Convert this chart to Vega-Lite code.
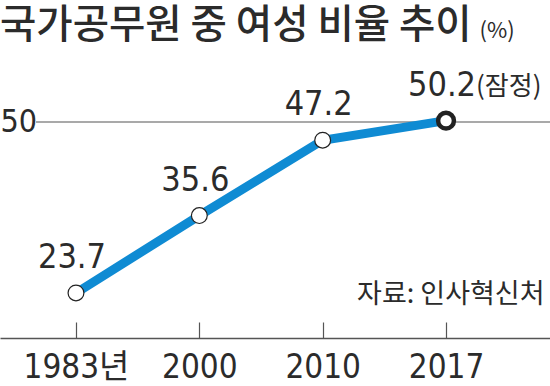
{
  "$schema": "https://vega.github.io/schema/vega-lite/v6.json",
  "width": 550,
  "height": 290,
  "autosize": {"type": "none"},
  "padding": {"left": 0, "right": 0, "top": 48, "bottom": 48},
  "background": "white",
  "title": {
    "text": "국가공무원 중 여성 비율 추이",
    "anchor": "start",
    "frame": "group",
    "orient": "top",
    "offset": 12,
    "dy": 70,
    "baseline": "alphabetic",
    "font": "Noto Sans CJK KR",
    "fontSize": 39.5,
    "fontWeight": 500,
    "color": "#2b2b2b"
  },
  "config": {"view": {"stroke": null}},
  "datasets": {
    "ref": [{"level": 50, "from": -0.324, "to": 3.843}]
  },
  "data": {
    "values": [
      {"idx": 0, "year": "1983년", "value": 23.7, "label": "23.7", "note": ""},
      {"idx": 1, "year": "2000", "value": 35.6, "label": "35.6", "note": ""},
      {"idx": 2, "year": "2010", "value": 47.2, "label": "47.2", "note": ""},
      {"idx": 3, "year": "2017", "value": 50.2, "label": "50.2", "note": "(잠정)"}
    ]
  },
  "encoding": {
    "x": {
      "field": "idx",
      "type": "quantitative",
      "scale": {"domain": [-0.616, 3.843], "nice": false, "zero": false},
      "axis": {
        "values": [0, 1, 2, 3],
        "labelExpr": "['1983년','2000','2010','2017'][datum.value]",
        "grid": false,
        "domainColor": "#555555",
        "domainWidth": 1.3,
        "tickColor": "#555555",
        "tickWidth": 1.2,
        "tickSize": -16,
        "labelFont": "DejaVu Sans Condensed, Liberation Sans, Noto Sans CJK KR, sans-serif",
        "labelFontSize": 33,
        "labelColor": "#2b2b2b",
        "labelBaseline": "alphabetic",
        "labelPadding": 55,
        "labelFlush": false,
        "labelOverlap": false,
        "title": "자료: 인사혁신처",
        "titleFont": "Noto Sans CJK KR",
        "titleFontSize": 27,
        "titleFontWeight": "normal",
        "titleColor": "#2b2b2b",
        "titleAlign": "right",
        "titleBaseline": "alphabetic",
        "titleX": 544,
        "titleY": -36
      }
    },
    "y": {
      "field": "value",
      "type": "quantitative",
      "scale": {"domain": [16.77, 61.38], "nice": false, "zero": false},
      "axis": {
        "values": [50],
        "grid": false,
        "domain": false,
        "ticks": false,
        "labelAlign": "left",
        "labelBaseline": "middle",
        "labelPadding": 0,
        "labelFont": "DejaVu Sans Condensed, Liberation Sans, sans-serif",
        "labelFontSize": 32,
        "labelColor": "#2b2b2b",
        "title": "(%)",
        "titleAngle": 0,
        "titleX": 479,
        "titleY": -11,
        "titleAlign": "left",
        "titleBaseline": "alphabetic",
        "titleFont": "Noto Sans CJK KR",
        "titleFontSize": 22,
        "titleFontWeight": "normal",
        "titleColor": "#2b2b2b"
      }
    }
  },
  "layer": [
    {
      "data": {"name": "ref"},
      "mark": {"type": "rule", "color": "#555555", "strokeWidth": 1.2},
      "encoding": {
        "x": {"field": "from", "type": "quantitative"},
        "x2": {"field": "to"},
        "y": {"field": "level", "type": "quantitative"}
      }
    },
    {
      "mark": {"type": "line", "color": "#0f8bd3", "strokeWidth": 9}
    },
    {
      "mark": {"type": "circle", "size": 250, "fill": "white", "stroke": "#222222", "opacity": 1},
      "encoding": {
        "strokeWidth": {"condition": {"test": "datum.idx === 3", "value": 4.5}, "value": 1.2}
      }
    },
    {
      "mark": {"type": "text", "font": "DejaVu Sans Condensed, Liberation Sans, sans-serif", "fontSize": 34, "color": "#2b2b2b", "baseline": "alphabetic", "dy": -25, "dx": -4},
      "encoding": {"text": {"field": "label"}}
    },
    {
      "mark": {"type": "text", "font": "Noto Sans CJK KR", "fontSize": 26, "color": "#2b2b2b", "align": "left", "baseline": "alphabetic", "dy": -26, "dx": 30},
      "encoding": {"text": {"field": "note"}}
    }
  ]
}
